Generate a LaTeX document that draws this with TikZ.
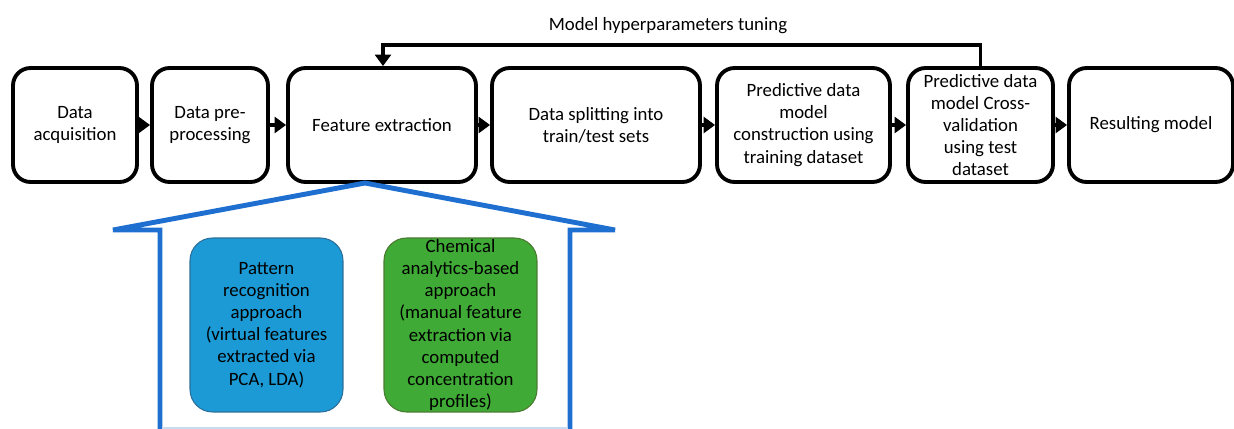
\documentclass[tikz,border=0pt]{standalone}
\usepackage{fontspec}
\setmainfont{Carlito}
\usepackage{xcolor}
\usetikzlibrary{arrows.meta, positioning, calc}

\definecolor{houseblue}{HTML}{1F6FD0}
\definecolor{prblue}{HTML}{1B9AD6}
\definecolor{prborder}{HTML}{2B6E9A}
\definecolor{chemgreen}{HTML}{3FAA35}
\definecolor{chemborder}{HTML}{4A7A30}

\tikzset{
    stage/.style={draw, line width=2.2pt, rounded corners=0.35cm, align=center,
        minimum height=2.28cm, inner sep=0pt, font=\fontsize{10.7}{12.6}\selectfont},
    approach/.style={draw, line width=0.6pt, rounded corners=0.45cm, align=center,
        minimum width=3.06cm, minimum height=3.48cm, inner sep=0pt,
        font=\fontsize{10.7}{12.6}\selectfont},
    flow/.style={line width=2.2pt, -{Triangle[length=6.5pt, width=9pt]}},
}

\begin{document}
\begin{tikzpicture}[x=0.02cm, y=-0.02cm]
    \useasboundingbox (0, 0) rectangle (1234, 429);

    % pipeline
    \node[stage, minimum width=2.48cm] (acq) at (75, 125) {Data\\acquisition};
    \node[stage, minimum width=2.32cm] (prep) at (210, 125) {Data pre-\\processing};
    \node[stage, minimum width=3.76cm] (feat) at (382, 125) {Feature extraction};
    \node[stage, minimum width=4.16cm] (split) at (596, 125) {Data splitting into\\train/test sets};
    \node[stage, minimum width=3.46cm] (build) at (803.5, 125) {Predictive data\\model\\construction using\\training dataset};
    \node[stage, minimum width=2.9cm] (cv) at (980.5, 125) {Predictive data\\model Cross-\\validation\\using test\\dataset};
    \node[stage, minimum width=3.28cm] (result) at (1151, 125) {Resulting model};

    \draw[flow] (acq) -- (prep);
    \draw[flow] (prep) -- (feat);
    \draw[flow] (feat) -- (split);
    \draw[flow] (split) -- (build);
    \draw[flow] (build) -- (cv);
    \draw[flow] (cv) -- (result);

    % tuning loop
    \coordinate (loopR) at (cv.north |- 0, 45);
    \coordinate (loopL) at (383, 45);
    \coordinate (loopEnd) at (383, 0 |- feat.north);
    \draw[flow] (cv.north) -- (loopR) -- (loopL) -- (loopEnd);
    \node[font=\fontsize{10.7}{12.6}\selectfont] (tune) at (668, 26) {Model hyperparameters tuning};

    % feature extraction detail
    \draw[houseblue, line width=2.8pt, line join=miter]
        (160, 431) -- (160, 230) -- (113, 230) -- (365, 183) -- (615, 230) -- (570, 230) -- (570, 431);
    \draw[houseblue!25, line width=1pt] (162, 428) -- (568, 428);

    \node[approach, fill=prblue, draw=prborder] (pr) at (266.5, 325)
        {Pattern\\recognition\\approach\\(virtual features\\extracted via\\PCA, LDA)};
    \node[approach, fill=chemgreen, draw=chemborder] (chem) at (460.5, 325)
        {Chemical\\analytics-based\\approach\\(manual feature\\extraction via\\computed\\concentration\\profiles)};
\end{tikzpicture}
\end{document}
